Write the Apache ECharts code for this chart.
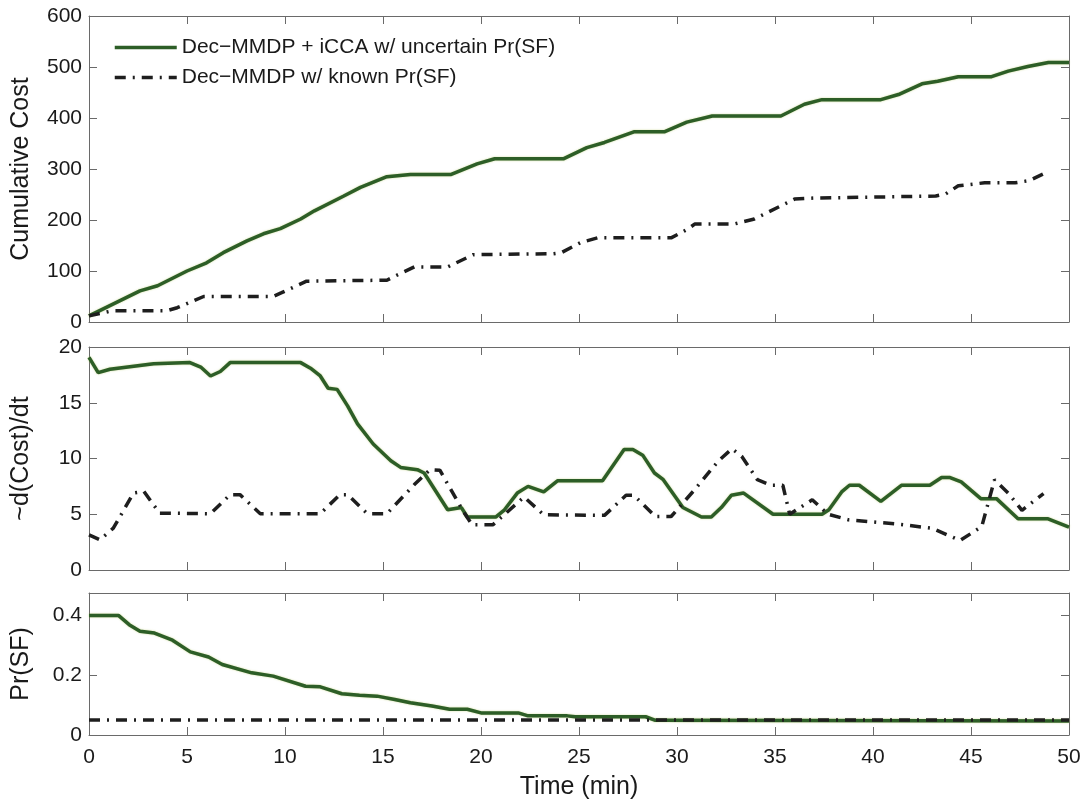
<!DOCTYPE html>
<html>
<head>
<meta charset="utf-8">
<script src="https://cdn.jsdelivr.net/npm/echarts@6/dist/echarts.min.js"></script>
<style>
html,body{margin:0;padding:0;background:#fff;}
#chart{width:1086px;height:802px;}
</style>
</head>
<body>
<div id="chart"></div>
<script>
// ---------- DATA ----------
var seriesNames = ['Dec\u2212MMDP + iCCA w/ uncertain Pr(SF)', 'Dec\u2212MMDP w/ known Pr(SF)'];
var xTicks = [0, 5, 10, 15, 20, 25, 30, 35, 40, 45, 50];

// Panel 1: Cumulative Cost
var costT_iCCA = [0, 2.6, 3.5, 5.0, 6.0, 6.85, 8.06, 8.9, 9.76, 10.8, 11.5, 13, 13.85, 15.2, 16.4, 18.45, 19.8, 20.7, 24.2, 25.4, 26.3, 27.8, 29.35, 30.5, 31.8, 35.3, 36.5, 37.4, 40.4, 41.3, 42.5, 43.3, 44.35, 46.05, 46.9, 47.9, 48.95, 50];
var cost_iCCA  = [12, 61, 71, 100, 116, 136, 159, 173, 183, 202, 218, 247, 264, 285, 289, 289, 310, 320, 320, 342, 352, 373, 373, 392, 404, 404, 427, 436, 436, 446, 467, 472, 481, 481, 492, 501, 509, 509];
var costT_known = [0, 1.2, 3.97, 4.5, 5.85, 9.4, 9.8, 11.1, 15.2, 15.5, 16.6, 18.3, 19.6, 23.7, 24.1, 25.1, 25.95, 29.7, 30.55, 30.9, 32.9, 33.95, 36.0, 37.0, 43.2, 43.7, 44.35, 45.7, 47.25, 47.95, 48.95];
var cost_known  = [12, 22, 22, 28, 50, 50, 57, 80, 82, 88, 108, 108, 132, 134, 136, 156, 165, 165, 182, 192, 192, 202, 241, 243, 247, 251, 267, 273, 273, 277, 295];

// Panel 2: ~d(Cost)/dt
var rateT_iCCA = [0, 0.47, 1.07, 3.3, 5.15, 5.7, 6.2, 6.7, 7.2, 10.8, 11.3, 11.8, 12.2, 12.66, 13.2, 13.7, 14.5, 15.4, 15.9, 16.75, 17.1, 18.3, 19.0, 19.3, 20.75, 21.2, 21.85, 22.4, 23.2, 23.9, 26.2, 27.3, 27.75, 28.25, 28.85, 29.3, 30.3, 31.25, 31.75, 32.26, 32.77, 33.4, 34.9, 37.4, 37.75, 38.4, 38.8, 39.3, 40.4, 41.45, 42.9, 43.5, 43.9, 44.5, 45.5, 46.3, 47.4, 48.9, 50];
var rate_iCCA  = [19.07, 17.7, 18.0, 18.5, 18.6, 18.2, 17.4, 17.8, 18.6, 18.6, 18.1, 17.4, 16.3, 16.2, 14.7, 13.1, 11.3, 9.8, 9.2, 9.0, 8.7, 5.4, 5.6, 4.75, 4.75, 5.4, 6.9, 7.5, 7.0, 8.0, 8.0, 10.8, 10.8, 10.3, 8.7, 8.1, 5.6, 4.75, 4.75, 5.6, 6.7, 6.9, 5.0, 5.0, 5.4, 7.0, 7.6, 7.6, 6.15, 7.6, 7.6, 8.3, 8.3, 7.9, 6.4, 6.4, 4.6, 4.6, 3.85];
var rateT_known = [0, 0.56, 1.24, 2.27, 2.8, 3.6, 6.2, 7.2, 7.7, 8.74, 11.8, 12.8, 13.2, 14.2, 15.2, 16.6, 17.4, 17.9, 19.1, 19.55, 20.6, 22.2, 23.2, 26.3, 27.4, 27.8, 28.9, 29.7, 30.9, 32.1, 32.8, 33.3, 34.1, 34.8, 35.4, 35.75, 36.9, 37.7, 38.75, 41.1, 43.0, 44.45, 45.55, 46.2, 46.9, 47.6, 48.7];
var rate_known  = [3.15, 2.7, 3.75, 6.9, 7.05, 5.1, 5.05, 6.76, 6.76, 5.05, 5.05, 6.76, 6.76, 5.05, 5.05, 7.66, 9.0, 8.95, 5.25, 4.05, 4.05, 6.55, 4.95, 4.9, 6.7, 6.7, 4.8, 4.8, 7.2, 9.76, 10.87, 10.2, 8.1, 7.6, 7.6, 5.0, 6.3, 5.0, 4.5, 4.15, 3.75, 2.65, 3.9, 8.1, 6.9, 5.35, 6.85];

// Panel 3: Pr(SF)
var prT_iCCA = [0, 1.5, 2.05, 2.6, 3.34, 4.26, 5.17, 6.1, 6.8, 8.3, 9.4, 11.05, 11.8, 12.9, 13.8, 14.7, 15.6, 16.4, 17.5, 18.4, 19.3, 20.0, 21.9, 22.4, 24.4, 24.8, 28.4, 28.9, 50];
var pr_iCCA  = [0.40, 0.40, 0.369, 0.347, 0.341, 0.317, 0.278, 0.261, 0.236, 0.208, 0.197, 0.163, 0.161, 0.138, 0.133, 0.130, 0.119, 0.108, 0.097, 0.086, 0.086, 0.074, 0.074, 0.064, 0.064, 0.061, 0.061, 0.049, 0.047];
var prT_known = [0, 50];
var pr_known  = [0.05, 0.05];

// ---------- CHART ----------
function zip(t, v) { return t.map(function (x, i) { return [x, v[i]]; }); }

var GREEN = '#2d5e27';
var BLACK = '#1e1e1e';
var FRAME = '#6a6a6a';
var FONT = '"Liberation Sans", Arial, Helvetica, sans-serif';
var TXT = '#1a1a1a';

var grids = [
  { left: 89, right: 17, top: 16, height: 306 },
  { left: 89, right: 17, top: 347, height: 223 },
  { left: 89, right: 17, top: 593, height: 142 }
];

var xAxes = [], yAxes = [];
var yCfg = [
  { min: 0, max: 600, interval: 100, name: 'Cumulative Cost' },
  { min: 0, max: 20, interval: 5, name: '~d(Cost)/dt' },
  { min: 0, max: 0.475, interval: 0.2, name: 'Pr(SF)' }
];
var tickStyle = { show: true, inside: true, length: 8, lineStyle: { color: FRAME } };
var lineFrame = { show: true, onZero: false, lineStyle: { color: FRAME, width: 1 } };
for (var g = 0; g < 3; g++) {
  var isLast = g === 2;
  xAxes.push({
    type: 'value', gridIndex: g, min: 0, max: 50, interval: 5, position: 'bottom',
    axisLine: lineFrame, axisTick: tickStyle, splitLine: { show: false },
    axisLabel: { show: isLast, color: TXT, fontSize: 21, fontFamily: FONT, margin: 12 },
    name: isLast ? 'Time (min)' : '', nameLocation: 'middle', nameGap: 40,
    nameTextStyle: { color: TXT, fontSize: 25, fontFamily: FONT }
  });
  xAxes.push({
    type: 'value', gridIndex: g, min: 0, max: 50, interval: 5, position: 'top',
    axisLine: lineFrame, axisTick: tickStyle, splitLine: { show: false },
    axisLabel: { show: false }
  });
  var c = yCfg[g];
  yAxes.push({
    type: 'value', gridIndex: g, min: c.min, max: c.max, interval: c.interval, position: 'left',
    axisLine: lineFrame, axisTick: tickStyle, splitLine: { show: false },
    axisLabel: { color: TXT, fontSize: 21, fontFamily: FONT, margin: 7, showMaxLabel: g !== 2 },
    name: c.name, nameLocation: 'middle', nameGap: 55, nameRotate: 90,
    nameTextStyle: { color: TXT, fontSize: 25, fontFamily: FONT }
  });
  yAxes.push({
    type: 'value', gridIndex: g, min: c.min, max: c.max, interval: c.interval, position: 'right',
    axisLine: lineFrame, axisTick: tickStyle, splitLine: { show: false },
    axisLabel: { show: false }
  });
}

var dash = [11, 7, 2, 7];
function greenSeries(g, data) {
  return {
    name: seriesNames[0], type: 'line', xAxisIndex: g * 2, yAxisIndex: g * 2, data: data,
    showSymbol: false, symbol: 'none', smooth: false, z: 2,
    lineStyle: { color: GREEN, width: 3.5, shadowColor: 'rgba(170,190,80,0.6)', shadowBlur: 2 },
    itemStyle: { color: GREEN }
  };
}
function blackSeries(g, data) {
  return {
    name: seriesNames[1], type: 'line', xAxisIndex: g * 2, yAxisIndex: g * 2, data: data,
    showSymbol: false, symbol: 'none', smooth: false, z: 3,
    lineStyle: { color: BLACK, width: 3.5, type: dash, cap: 'butt' },
    itemStyle: { color: BLACK }
  };
}

var option = {
  backgroundColor: '#ffffff',
  animation: false,
  grid: grids,
  xAxis: xAxes,
  yAxis: yAxes,
  legend: {
    orient: 'vertical', left: 108, top: 32,
    itemWidth: 62, itemHeight: 14, itemGap: 9,
    textStyle: { color: TXT, fontSize: 21, fontFamily: FONT },
    itemStyle: { color: 'rgba(0,0,0,0)', borderWidth: 0, opacity: 0 },
    lineStyle: { width: 3.5 },
    data: seriesNames
  },
  series: [
    greenSeries(0, zip(costT_iCCA, cost_iCCA)),
    blackSeries(0, zip(costT_known, cost_known)),
    greenSeries(1, zip(rateT_iCCA, rate_iCCA)),
    blackSeries(1, zip(rateT_known, rate_known)),
    greenSeries(2, zip(prT_iCCA, pr_iCCA)),
    blackSeries(2, zip(prT_known, pr_known))
  ]
};

var chart = echarts.init(document.getElementById('chart'), null, { renderer: 'canvas' });
chart.setOption(option);
</script>
</body>
</html>
